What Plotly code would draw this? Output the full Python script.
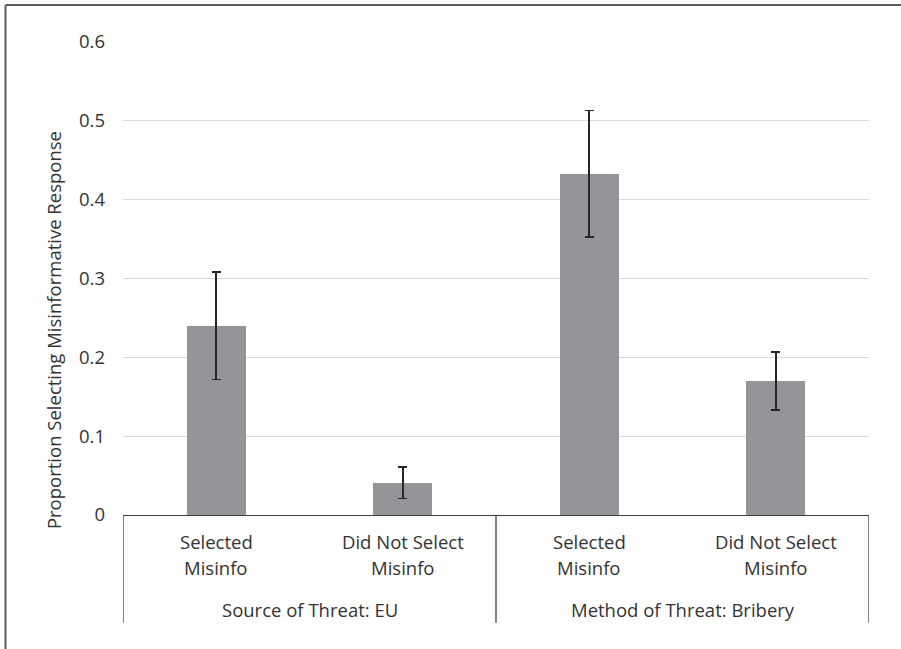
import plotly.graph_objects as go

# ---- data ----
line1 = ["Selected", "Did Not Select", "Selected", "Did Not Select"]
line2 = ["Misinfo", "Misinfo", "Misinfo", "Misinfo"]
groups = ["Source of Threat: EU", "Method of Threat: Bribery"]
group_sizes = [2, 2]
values = [0.240, 0.041, 0.433, 0.170]
errors = [0.068, 0.020, 0.080, 0.037]
y_ticks = [0, 0.1, 0.2, 0.3, 0.4, 0.5, 0.6]
y_tick_text = ["0", "0.1", "0.2", "0.3", "0.4", "0.5", "0.6"]
y_title = "Proportion Selecting Misinformative Response"

FONT = "Open Sans"
FS = 18.5
TXT = "#333333"

cats = [f"{a} {b} ({i})" for i, (a, b) in enumerate(zip(line1, line2))]

fig = go.Figure()
fig.add_trace(go.Bar(
    x=cats, y=values, width=0.316,
    marker=dict(color="#939598", line=dict(width=0)),
    error_y=dict(type="data", array=errors, visible=True,
                 color="#262626", thickness=1.6, width=4.5),
    showlegend=False, hoverinfo="skip",
))

annotations = []
shapes = []
for i in range(len(cats)):
    annotations.append(dict(x=i, y=-0.057, xref="x", yref="paper", text=line1[i],
                            showarrow=False, yanchor="middle",
                            font=dict(family=FONT, size=FS, color=TXT)))
    annotations.append(dict(x=i, y=-0.112, xref="x", yref="paper", text=line2[i],
                            showarrow=False, yanchor="middle",
                            font=dict(family=FONT, size=FS, color=TXT)))
start = 0
shapes.append(dict(type="line", xref="x", yref="paper", x0=-0.5, x1=-0.5,
                   y0=0, y1=-0.228, line=dict(color="#404040", width=1.3)))
for g, n in zip(groups, group_sizes):
    center = start + (n - 1) / 2
    annotations.append(dict(x=center, y=-0.199, xref="x", yref="paper", text=g,
                            showarrow=False, yanchor="middle",
                            font=dict(family=FONT, size=FS, color=TXT)))
    end = start + n - 0.5
    shapes.append(dict(type="line", xref="x", yref="paper", x0=end, x1=end,
                       y0=0, y1=-0.228, line=dict(color="#404040", width=1.3)))
    start += n

annotations.append(dict(x=-0.0938, y=0.391, xref="paper", yref="paper", text=y_title,
                        textangle=-90, showarrow=False, xanchor="center", yanchor="middle",
                        font=dict(family=FONT, size=FS, color=TXT)))

# outer frame (left and top edges)
shapes.append(dict(type="line", xref="paper", yref="paper", x0=-0.1575, x1=-0.1575,
                   y0=1.078, y1=-0.32, line=dict(color="#595959", width=2)))
shapes.append(dict(type="line", xref="paper", yref="paper", x0=-0.1575, x1=1.06,
                   y0=1.078, y1=1.078, line=dict(color="#595959", width=2)))

fig.update_layout(
    width=901, height=649,
    margin=dict(l=123, r=32, t=42, b=134),
    paper_bgcolor="white", plot_bgcolor="white",
    font=dict(family=FONT, size=FS, color=TXT),
    xaxis=dict(type="category", showticklabels=False, ticks="", showgrid=False,
               showline=True, linecolor="#404040", linewidth=1.3,
               range=[-0.5, 3.5], zeroline=False),
    yaxis=dict(range=[0, 0.6], tickvals=y_ticks, ticktext=y_tick_text,
               showgrid=True, gridcolor="#d9d9d9", gridwidth=1,
               zeroline=False, showline=False, ticks="",
               ticklabelstandoff=17,
               tickfont=dict(family=FONT, size=FS, color=TXT)),
    annotations=annotations,
    shapes=shapes,
    bargap=0,
)

fig.write_html("out.html", config={"displayModeBar": False},
               post_script="document.body.style.margin='0';document.body.style.overflow='hidden';")
